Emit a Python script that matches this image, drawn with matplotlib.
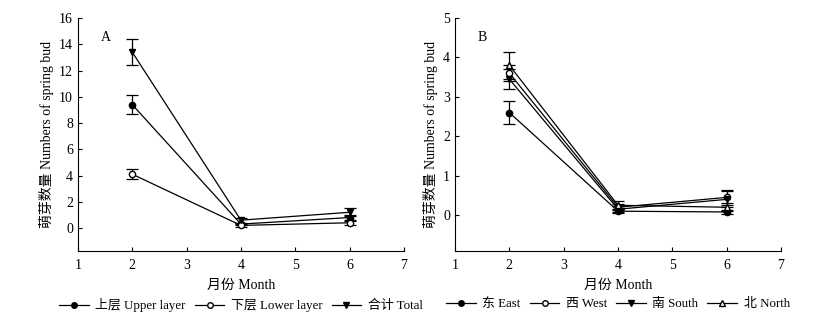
import matplotlib.pyplot as plt
from matplotlib.lines import Line2D

plt.rcParams['font.family'] = ['Liberation Serif', 'Noto Sans CJK SC']
plt.rcParams['font.size'] = 10

months = [2, 4, 6]

# Panel A: layers
upper = [9.4, 0.3, 0.8]
upper_err = [0.7, 0.1, 0.2]
lower = [4.1, 0.2, 0.4]
lower_err = [0.4, 0.1, 0.15]
total = [13.4, 0.6, 1.2]
total_err = [1.0, 0.2, 0.3]

# Panel B: directions
east = [2.6, 0.1, 0.08]
east_err = [0.3, 0.05, 0.05]
west = [3.6, 0.2, 0.45]
west_err = [0.2, 0.08, 0.2]
south = [3.45, 0.15, 0.4]
south_err = [0.25, 0.08, 0.2]
north = [3.8, 0.25, 0.2]
north_err = [0.35, 0.1, 0.1]

fig = plt.figure(figsize=(8.38, 3.22), dpi=100)
axA = fig.add_axes([0.093, 0.2205, 0.389, 0.7235])
axB = fig.add_axes([0.543, 0.2205, 0.389, 0.7235])


def draw(ax, series, labels, styles):
    handles = []
    for y, e, lab, (m, fc) in zip(series[0], series[1], labels, styles):
        ax.errorbar(months, y, yerr=e, color='black', marker=m, markerfacecolor=fc,
                     markeredgecolor='black', markersize=4.5, linewidth=0.9,
                     elinewidth=0.9, capsize=4, capthick=0.9)
        handles.append(Line2D([], [], color='black', marker=m, markerfacecolor=fc,
                              markeredgecolor='black', markersize=4, linewidth=0.9,
                              label=lab))
    ax.spines['top'].set_visible(False)
    ax.spines['right'].set_visible(False)
    ax.tick_params(direction='in', length=3, width=0.8)
    ax.tick_params(axis='x', pad=6)
    ax.set_xlim(1, 7)
    ax.set_xticks(range(1, 8))
    ax.set_xlabel('月份 Month', labelpad=5)
    ax.set_ylabel('萌芽数量 Numbers of spring bud', labelpad=4)
    ax.legend(handles=handles, loc='upper center', bbox_to_anchor=(0.5, -0.18),
              ncol=len(labels), frameon=False, handlelength=2.3, columnspacing=0.7,
              handletextpad=0.5, borderaxespad=0, fontsize=9.3)


styles3 = [('o', 'black'), ('o', 'white'), ('v', 'black')]
draw(axA, ([upper, lower, total], [upper_err, lower_err, total_err]),
     ['上层 Upper layer', '下层 Lower layer', '合计 Total'], styles3)
axA.set_ylim(-1.75, 16)
axA.set_yticks(range(0, 17, 2))
axA.text(0.07, 0.9, 'A', transform=axA.transAxes)

styles4 = [('o', 'black'), ('o', 'white'), ('v', 'black'), ('^', 'white')]
draw(axB, ([east, west, south, north], [east_err, west_err, south_err, north_err]),
     ['东 East', '西 West', '南 South', '北 North'], styles4)
axB.set_ylim(-0.91, 5)
axB.set_yticks(range(0, 6))
axB.text(0.07, 0.9, 'B', transform=axB.transAxes)

fig.savefig('out.png', dpi=100)
